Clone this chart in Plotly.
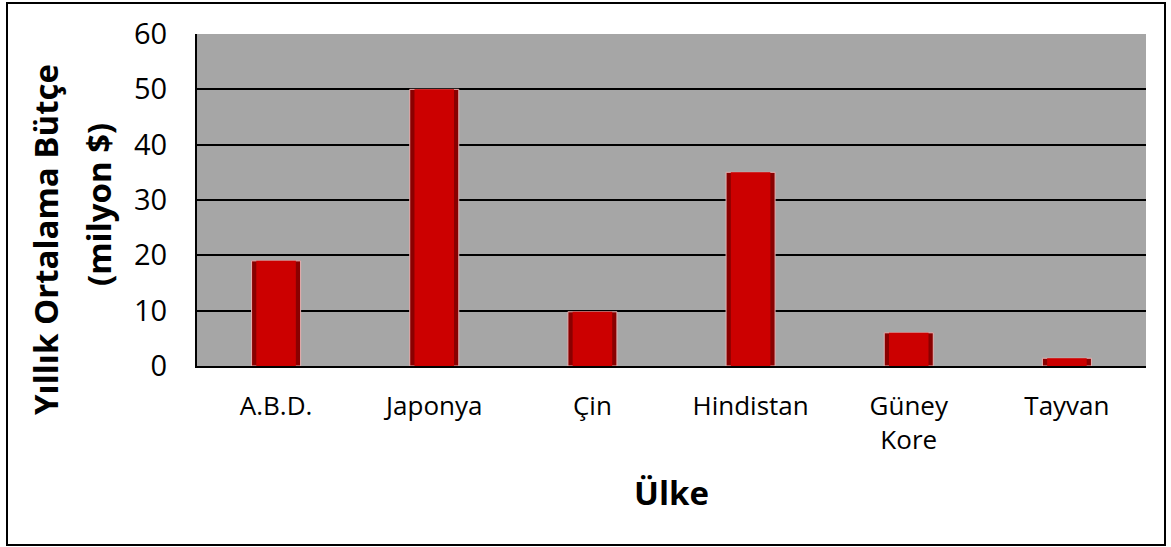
import plotly.graph_objects as go

categories = ["A.B.D.", "Japonya", "Çin", "Hindistan", "Güney<br>Kore", "Tayvan"]
values = [19, 50, 9.8, 35, 6, 1.4]
y_ticks = [0, 10, 20, 30, 40, 50, 60]

W, H = 1171, 547
L, R, T, B = 197, 25, 34, 181
pw, ph = W - L - R, H - T - B

def px(x):
    return (x - L) / pw

def py(y):
    return (H - B - y) / ph

fig = go.Figure()
# dark edge bar (bevel sides)
fig.add_trace(go.Bar(
    x=categories, y=values, width=0.31,
    marker=dict(color="#8A0000", line=dict(color="#E6B3B3", width=1)),
    hoverinfo="skip", showlegend=False,
))
# main face
fig.add_trace(go.Bar(
    x=categories, y=values, width=0.25,
    marker=dict(color="#CC0000", line=dict(width=0)),
    showlegend=False,
))

fig.update_layout(
    width=W, height=H,
    barmode="overlay",
    margin=dict(l=L, r=R, t=T, b=B),
    paper_bgcolor="white",
    plot_bgcolor="#A6A6A6",
    font=dict(family="Open Sans", color="black"),
    showlegend=False,
)
fig.update_xaxes(
    showgrid=False, showline=True, linecolor="black", linewidth=2,
    tickfont=dict(size=26, family="Open Sans", color="black"),
    ticks="outside", ticklen=0, ticklabelstandoff=16,
)
fig.update_yaxes(
    range=[0, 60], tickvals=y_ticks,
    showgrid=True, gridcolor="black", gridwidth=2,
    showline=True, linecolor="black", linewidth=2,
    zeroline=False,
    tickfont=dict(size=29, family="Open Sans", color="black"),
    ticks="outside", ticklen=0, ticklabelstandoff=22,
)

fig.add_annotation(text="<b>Ülke</b>", xref="paper", yref="paper",
                   x=px(671), y=py(492), showarrow=False,
                   xanchor="center", yanchor="middle",
                   font=dict(size=33, family="Open Sans", color="black"))
fig.add_annotation(text="<b>Yıllık Ortalama Bütçe</b>", xref="paper", yref="paper",
                   x=px(46), y=py(240), showarrow=False, textangle=-90,
                   xanchor="center", yanchor="middle",
                   font=dict(size=33, family="Open Sans", color="black"))
fig.add_annotation(text="<b>(milyon $)</b>", xref="paper", yref="paper",
                   x=px(98), y=py(205), showarrow=False, textangle=-90,
                   xanchor="center", yanchor="middle",
                   font=dict(size=33, family="Open Sans", color="black"))

fig.add_shape(type="rect", xref="paper", yref="paper",
              x0=px(7), x1=px(1165), y0=py(545), y1=py(3),
              line=dict(color="black", width=2), fillcolor="rgba(0,0,0,0)",
              layer="below")

fig.write_html("out.html", config={"displayModeBar": False},
               post_script="document.body.style.margin='0';document.body.style.overflow='hidden';")
